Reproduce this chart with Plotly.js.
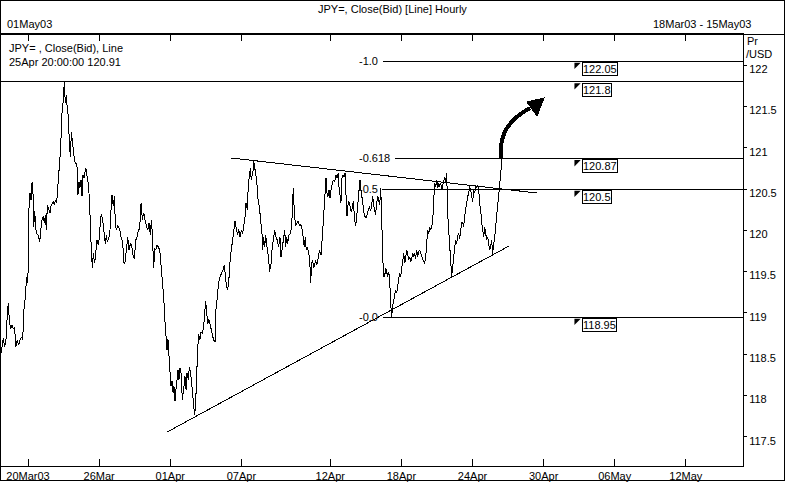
<!DOCTYPE html>
<html>
<head>
<meta charset="utf-8">
<script src="https://cdn.plot.ly/plotly-3.0.1.min.js"></script>
<style>
  html, body { margin: 0; padding: 0; background: #ffffff; }
  #chart { width: 800px; height: 500px; }
  #chart .scatterlayer .js-line, #chart .shapelayer path { shape-rendering: crispEdges; }
</style>
</head>
<body>
<div id="chart"></div>
<script>
// ---- DATA (x = trading days since 20Mar03 00:00, weekends removed; y = JPY= close bid) ----
const tradingDay = [
  -1.52,-1.48,-1.39,-1.31,-1.24,-1.16,-1.11,-1.05,-0.98,-0.90,
  -0.83,-0.75,-0.69,-0.60,-0.53,-0.45,-0.36,-0.30,-0.23,-0.15,
  -0.08,-0.04,0.00,0.04,0.11,0.17,0.23,0.28,0.32,0.38,
  0.43,0.49,0.58,0.66,0.71,0.77,0.86,0.92,0.98,1.03,
  1.09,1.16,1.24,1.29,1.37,1.42,1.48,1.56,1.61,1.69,
  1.74,1.80,1.86,1.91,1.99,2.04,2.10,2.16,2.21,2.27,
  2.32,2.38,2.44,2.49,2.55,2.62,2.70,2.77,2.81,2.87,
  2.92,2.98,3.04,3.09,3.15,3.21,3.26,3.34,3.41,3.47,
  3.52,3.56,3.62,3.67,3.75,3.81,3.88,3.96,4.01,4.09,
  4.14,4.22,4.29,4.35,4.41,4.46,4.54,4.61,4.67,4.72,
  4.80,4.86,4.91,4.97,5.04,5.12,5.17,5.23,5.29,5.34,
  5.40,
  5.46,5.53,5.61,5.68,5.76,5.83,5.91,5.98,6.06,6.13,
  6.21,6.28,6.36,6.43,6.51,6.58,6.66,6.73,6.81,6.88,
  6.94,6.99,7.07,7.12,7.18,7.26,7.33,7.41,7.48,7.56,
  7.63,7.71,7.76,7.82,7.87,7.93,7.99,8.04,8.10,8.16,
  8.21,8.27,8.32,8.38,8.44,8.49,8.55,8.61,8.68,8.76,
  8.83,8.89,8.94,9.02,9.07,9.15,9.21,9.26,9.32,9.37,
  9.43,9.49,9.54,9.60,9.66,9.73,9.81,9.88,9.94,9.99,
  10.05,10.11,10.18,10.26,10.33,10.39,10.44,10.52,10.57,10.65,
  10.72,10.80,10.89,10.97,11.04,11.10,11.16,11.23,11.31,11.38,
  11.44,11.49,11.57,11.64,11.72,11.79,11.85,11.92,12.00,12.07,
  12.21,12.26,12.34,12.39,12.45,12.50,12.56,12.62,12.67,
  12.69,12.75,12.80,12.86,12.94,13.01,13.09,13.16,13.20,13.25,
  13.31,13.37,13.42,13.48,13.54,13.59,13.67,13.72,13.80,13.87,
  13.95,14.02,14.10,14.17,14.23,14.30,14.36,14.44,14.49,14.55,
  14.60,14.68,14.75,14.83,14.89,14.92,14.98,15.05,15.13,15.20,
  15.28,15.35,15.43,15.49,15.54,15.60,15.65,15.71,15.79,15.84,
  15.90,15.95,16.01,16.07,16.12,16.18,16.24,16.29,16.35,16.40,
  16.48,16.54,16.61,16.69,16.76,16.82,16.87,16.93,16.99,17.04,
  17.10,17.17,17.25,17.32,17.38,17.44,17.49,17.55,17.60,17.66,
  17.72,17.77,17.83,17.89,17.94,18.00,18.05,18.11,18.17,18.22,
  18.30,18.37,18.43,18.49,18.54,18.62,18.67,18.73,18.79,18.84,
  18.90,18.95,19.03,19.09,19.14,19.20,19.27,19.33,19.39,19.44,
  19.50,19.55,19.61,19.67,19.72,19.78,19.84,19.89,19.95,19.99,
  20.00,20.06,20.12,20.17,20.23,20.29,20.34,20.40,20.45,20.51,
  20.57,20.62,20.68,20.74,20.79,20.85,20.90,20.96,21.02,21.07,
  21.13,21.19,21.24,21.30,21.35,21.41,21.47,21.52,21.58,21.64,
  21.69,21.75,21.80,21.86,21.92,21.97,22.03,22.09,22.14,22.20,
  22.25,22.31,22.37,22.42,22.48,22.54,22.59,22.65,22.70,22.76,
  22.82,22.87,22.93,22.99,23.04,23.10,23.15,23.21,23.27,23.32,
  23.38,23.44,23.49,23.55,23.60,23.66,23.72,23.77,23.83,23.89,
  23.94,24.00,24.05,24.11,24.17,24.22,24.28,24.33,24.39,24.45,
  24.50,24.56,24.62,24.67,24.73,24.79,24.84,24.90,24.95,25.01,
  25.07,25.12,25.18,25.24,25.29,25.35,25.40,25.46,25.52,25.57,
  25.63,25.69,25.74,25.80,25.85,25.91,25.97,26.02,26.08,26.13,
  26.19,26.25,26.30,26.36,26.42,26.47,26.53,26.59,26.66
];
const closeBid = [
  118.51,118.59,118.69,118.59,118.67,119.00,119.12,118.91,118.81,118.85,
  118.81,118.83,118.59,118.67,118.61,118.67,118.71,118.67,119.03,119.20,
  119.44,119.36,119.48,120.21,120.45,120.37,120.59,120.45,120.04,120.23,
  120.02,119.96,119.94,119.86,119.96,120.11,120.17,120.09,120.19,120.00,
  120.31,120.25,120.21,120.29,120.33,120.35,120.31,120.37,120.33,120.53,
  120.65,120.89,121.13,121.42,121.58,121.80,121.54,121.64,121.46,121.38,
  121.09,120.89,121.19,121.05,120.97,120.83,120.81,120.75,120.43,120.59,
  120.51,120.61,120.41,120.67,120.63,120.71,120.75,120.63,120.53,120.29,
  119.84,119.76,119.54,119.72,119.60,119.76,119.88,119.82,119.92,120.17,
  120.19,120.09,119.96,119.84,119.94,119.86,119.90,120.00,120.25,120.43,
  120.29,120.41,120.09,120.00,120.06,120.02,120.00,119.92,119.88,119.80,
  119.60,
  119.62,119.76,119.92,119.76,119.84,119.82,119.70,119.66,119.88,119.92,
  120.00,120.02,120.33,120.13,120.21,120.13,120.07,120.00,120.09,119.94,
  120.13,119.96,119.54,119.78,119.76,119.82,119.80,119.76,119.58,119.40,
  119.20,118.87,118.71,118.55,118.69,118.43,118.31,118.11,118.17,118.03,
  118.11,117.93,118.07,118.19,118.31,118.19,118.33,118.27,117.95,118.09,
  118.23,118.07,118.27,118.19,118.35,118.27,118.15,118.03,117.87,117.76,
  117.91,118.31,118.55,118.75,118.67,118.77,118.75,118.83,119.04,119.14,
  119.00,118.87,118.92,118.83,118.75,118.71,118.67,118.65,119.04,119.20,
  119.36,119.44,119.48,119.52,119.58,119.44,119.32,119.28,119.44,119.68,
  119.80,119.90,119.98,120.11,120.00,119.94,120.02,119.92,120.00,119.96,
  120.17,120.33,120.25,120.57,120.65,120.75,120.61,120.69,120.73,
  120.85,120.73,120.69,120.61,120.37,120.29,120.13,119.96,119.76,119.92,
  119.80,119.94,119.84,119.76,119.64,119.50,119.60,119.76,119.88,120.00,
  119.92,119.88,119.80,119.92,119.68,119.84,119.88,120.00,119.80,119.92,
  119.84,119.94,119.96,120.05,120.37,120.51,120.21,120.05,120.09,120.11,
  120.05,120.07,120.00,119.88,119.80,119.92,119.76,119.80,119.70,119.66,
  119.36,119.60,119.64,119.54,119.58,119.64,119.58,119.66,119.70,119.76,
  119.70,119.88,120.13,120.37,120.63,120.45,120.41,120.49,120.39,120.49,
  120.57,120.61,120.59,120.67,120.63,120.69,120.53,120.45,120.33,120.63,
  120.67,120.65,120.69,120.41,120.17,120.31,120.35,120.29,120.23,120.25,
  120.35,120.13,120.05,120.17,120.29,120.57,120.61,120.49,120.37,120.29,
  120.21,120.17,120.15,120.21,120.25,120.29,120.23,120.35,120.41,120.31,
  120.23,120.19,120.33,120.41,120.37,120.31,120.51,120.17,119.76,119.44,
  119.52,119.44,119.54,119.50,119.44,119.50,119.40,119.12,118.95,119.08,
  119.16,119.24,119.28,119.24,119.32,119.40,119.48,119.44,119.56,119.64,
  119.72,119.60,119.70,119.76,119.72,119.64,119.68,119.62,119.66,119.72,
  119.68,119.72,119.66,119.76,119.68,119.74,119.76,119.72,119.68,119.66,
  119.62,119.60,119.68,119.84,120.00,119.96,120.04,120.00,120.04,120.09,
  120.37,120.57,120.53,120.61,120.51,120.57,120.53,120.57,120.49,120.55,
  120.61,120.65,120.59,120.69,120.21,119.96,119.72,119.64,119.44,119.60,
  119.72,119.80,119.88,119.84,119.94,119.96,119.90,120.00,120.09,120.10,
  120.04,120.17,120.29,120.33,120.41,120.45,120.53,120.49,120.41,120.35,
  120.49,120.45,120.53,120.51,120.55,120.49,120.33,120.25,120.09,120.00,
  119.92,120.04,119.96,119.88,119.92,119.84,119.76,119.80,119.88,119.72,
  119.80,119.92,120.04,120.17,120.33,120.45,120.53,120.69,120.91
];

// x-axis ticks (trading-day positions) and labels
const xTickDays   = [0, 4, 8, 12, 17, 21, 25, 29, 33, 37];
const xTickLabels = ['20Mar03','26Mar','01Apr','07Apr','12Apr','18Apr','24Apr','30Apr','06May','12May'];
// y-axis ticks
const yTickVals   = [117.5, 118, 118.5, 119, 119.5, 120, 120.5, 121, 121.5, 122];
const yTickLabels = ['117.5','118','118.5','119','119.5','120','120.5','121','121.5','122'];

// Fibonacci retracement levels
const fibLevels = [122.05, 120.87, 120.5, 118.95];
const fibLabels = ['-1.0', '-0.618', '-0.5', '-0.0'];
const fibStartDay = [19.97, 20.64, 19.91, 19.97];

// price tags on the right
const tagLevels = [122.05, 121.8, 120.87, 120.5, 118.95];
const tagLabels = ['122.05', '121.8', '120.87', '120.5', '118.95'];

// resistance (high) horizontal line
const highLevel = 121.8;

// trend lines [day0, price0, day1, price1]
const upperTrend = [11.42, 120.876, 28.63, 120.452];
const lowerTrend = [7.82, 117.558, 27.05, 119.81];

// ---- LAYOUT ----
const W = 800, H = 500;
const M = {l: 1, r: 57, t: 34, b: 34};
const PW = W - M.l - M.r, PH = H - M.t - M.b;
const xRange = [-1.519, 40.214];
const yRange = [117.147, 122.377];
const px = x => (x - M.l) / PW;          // pixel -> paper x
const py = y => 1 - (y - M.t) / PH;      // pixel -> paper y
const FONT = {family: '"Liberation Sans", Arial, sans-serif', size: 11, color: '#000000'};

const shapes = [];
// outer frame
shapes.push({type: 'rect', xref: 'paper', yref: 'paper',
  x0: px(0.5), x1: px(784.5), y0: py(0.5), y1: py(480.5),
  line: {color: '#000', width: 1}, fillcolor: 'rgba(0,0,0,0)'});
// header separator line
shapes.push({type: 'line', xref: 'paper', yref: 'paper',
  x0: px(0.5), x1: px(784.5), y0: py(34), y1: py(34), line: {color: '#000', width: 1}});
// high level line across full plot
shapes.push({type: 'line', xref: 'paper', yref: 'y', x0: 0, x1: 1, y0: highLevel, y1: highLevel,
  line: {color: '#000', width: 1}});
// fib lines
fibLevels.forEach((lv, i) => {
  shapes.push({type: 'line', xref: 'x', yref: 'y', x0: fibStartDay[i], x1: xRange[1], y0: lv, y1: lv,
    line: {color: '#000', width: 1}});
});
// trend lines
[upperTrend, lowerTrend].forEach(t => {
  shapes.push({type: 'line', xref: 'x', yref: 'y', x0: t[0], y0: t[1], x1: t[2], y1: t[3],
    line: {color: '#000', width: 1}});
});
// hand-drawn curved arrow
shapes.push({type: 'path', xref: 'x', yref: 'y',
  path: 'M 26.60,120.876 C 26.49,121.154 27.00,121.336 28.23,121.481',
  line: {color: '#000', width: 4}});
shapes.push({type: 'path', xref: 'x', yref: 'y',
  path: 'M 28.06,121.554 L 29.02,121.602 L 28.63,121.384 Z',
  fillcolor: '#000', line: {color: '#000', width: 1}});

const annotations = [];
const addText = (text, x, y, xanchor, yanchor, xref, yref) => annotations.push({
  text, x, y, xref: xref || 'paper', yref: yref || 'paper', xanchor, yanchor: yanchor || 'middle',
  showarrow: false, font: FONT, borderpad: 0
});
addText('JPY=, Close(Bid) [Line] Hourly', px(392), py(9), 'center');
addText('01May03', px(6), py(24), 'left');
addText('18Mar03 - 15May03', px(752), py(24), 'right');
addText('JPY= , Close(Bid), Line', px(8), py(48), 'left');
addText('25Apr 20:00:00 120.91', px(8), py(62), 'left');
addText('Pr', px(746), py(41), 'left');
addText('/USD', px(745), py(54), 'left');
// fib labels
fibLevels.forEach((lv, i) => addText(fibLabels[i], px(358), lv, 'left', 'middle', 'paper', 'y'));
// price tags
tagLevels.forEach((lv, i) => annotations.push({
  text: tagLabels[i], x: px(582), y: lv, xref: 'paper', yref: 'y',
  xanchor: 'left', yanchor: 'top', yshift: -1, showarrow: false, font: FONT,
  bordercolor: '#000', borderwidth: 1, borderpad: 0, bgcolor: '#fff'
}));

const traces = [
  {x: tradingDay, y: closeBid, type: 'scatter', mode: 'lines',
   line: {color: '#000', width: 1}, hoverinfo: 'skip'},
  {x: tagLevels.map(() => 30.85), y: tagLevels.map(v => v - 0.045), type: 'scatter', mode: 'markers',
   marker: {symbol: 'triangle-nw', size: 7, color: '#000', line: {width: 0}}, hoverinfo: 'skip'}
];

const layout = {
  width: W, height: H, margin: {l: M.l, r: M.r, t: M.t, b: M.b, pad: 0},
  paper_bgcolor: '#fff', plot_bgcolor: '#fff', showlegend: false,
  font: FONT,
  xaxis: {range: xRange, tickmode: 'array', tickvals: xTickDays, ticktext: xTickLabels,
    ticks: 'inside', ticklen: 7, tickwidth: 1, tickcolor: '#000',
    showline: true, linecolor: '#000', linewidth: 1, mirror: 'ticks',
    showgrid: false, zeroline: false, tickfont: FONT, fixedrange: true},
  yaxis: {range: yRange, side: 'right', tickmode: 'array', tickvals: yTickVals, ticktext: yTickLabels,
    ticks: 'outside', ticklen: 3, tickwidth: 1, tickcolor: '#000', ticklabelshift: 4,
    showline: true, linecolor: '#000', linewidth: 1,
    showgrid: false, zeroline: false, tickfont: FONT, fixedrange: true},
  shapes, annotations
};

Plotly.newPlot('chart', traces, layout, {staticPlot: true, displayModeBar: false});
</script>
</body>
</html>
